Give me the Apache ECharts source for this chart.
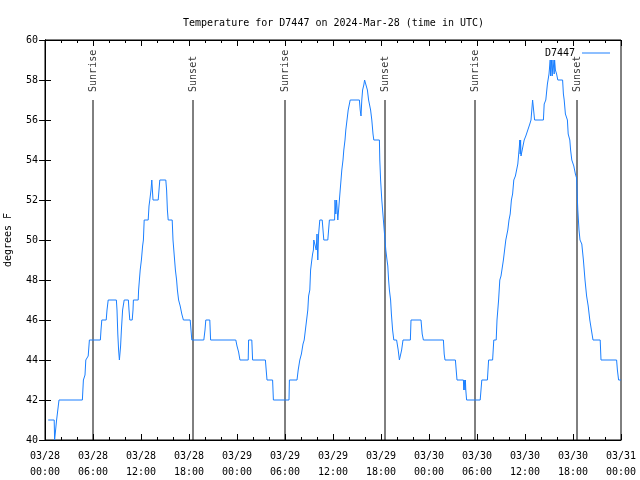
<!DOCTYPE html>
<html>
<head>
<meta charset="utf-8">
<script src="https://cdn.jsdelivr.net/npm/echarts@6/dist/echarts.min.js"></script>
<style>html,body{margin:0;padding:0;background:#fff}#c{width:640px;height:480px}</style>
</head>
<body>
<div id="c"></div>
<script>
// Hours since 03/28 00:00 UTC
const tempHours = [0.4,1.15,1.2,1.35,1.45,1.6,1.75,4.67,4.8,5.0,5.1,5.4,5.55,6.92,7.0,7.1,7.65,7.75,7.9,8.92,9.0,9.1,9.2,9.3,9.37,9.45,9.55,9.7,9.9,10.42,10.5,10.6,10.9,11.0,11.05,11.65,11.7,11.8,11.9,12.05,12.2,12.3,12.4,12.9,13.0,13.1,13.25,13.35,13.45,13.5,13.65,14.15,14.25,14.35,15.1,15.2,15.3,15.4,15.9,16.0,16.1,16.2,16.3,16.45,16.55,16.7,16.9,17.1,17.3,18.15,18.25,18.35,19.85,20.0,20.1,20.6,20.7,23.85,24.0,24.2,24.37,25.4,25.45,25.85,25.95,27.55,27.65,27.75,28.45,28.55,30.5,30.55,31.5,31.65,31.85,32.05,32.25,32.4,32.55,32.7,32.85,32.95,33.1,33.2,33.35,33.45,33.55,33.6,33.8,33.9,34.0,34.1,34.2,34.35,34.65,34.75,34.85,35.35,35.45,35.55,36.2,36.25,36.35,36.45,36.6,36.75,36.8,36.9,37.0,37.1,37.25,37.35,37.5,37.6,37.75,37.9,38.05,38.15,39.3,39.4,39.5,39.6,39.7,39.85,39.95,40.2,40.3,40.45,40.7,40.85,41.0,41.1,41.8,41.85,41.95,42.1,42.2,42.3,42.4,42.5,42.6,42.75,42.85,42.95,43.05,43.2,43.3,43.45,43.6,43.95,44.15,44.3,44.42,44.58,44.75,45.67,45.75,47.0,47.15,47.3,49.8,49.9,50.0,51.3,51.4,51.5,52.3,52.35,52.4,52.5,52.55,52.6,52.7,54.4,54.6,55.3,55.45,55.95,56.1,56.4,56.5,56.7,56.85,57.0,57.3,57.45,57.6,57.85,58.0,58.15,58.3,58.45,58.6,58.8,58.95,59.1,59.3,59.35,59.4,59.45,59.5,59.7,59.8,59.9,60.1,60.3,60.6,60.75,60.95,61.05,61.2,62.3,62.4,62.6,62.8,63.0,63.15,63.2,63.3,63.4,63.5,63.6,63.65,63.7,63.8,63.95,64.1,64.7,64.8,64.9,65.05,65.3,65.4,65.6,65.7,65.85,66.1,66.3,66.45,66.55,66.6,66.75,66.875,67.1,67.3,67.5,67.7,67.9,68.1,68.3,68.5,69.4,69.5,71.45,71.55,71.7,72];
const tempValues = [41,41,40,40,41,41,42,42,43,43.25,44,44.2,45,45,45.5,46,46,46.5,47,47,46.5,45.3,44.5,44,44,44.7,45.5,46.5,47,47,46.5,46,46,46.5,47,47,47.5,48,48.5,49,49.7,50,51,51,51.7,52,52.5,53,53,52,52,52,52.5,53,53,52.5,51.5,51,51,50,49.5,49,48.5,48,47.5,47,46.7,46.3,46,46,45.5,45,45,45.5,46,46,45,45,44.7,44.4,44,44,45,45,44,44,43.5,43,43,42,42,43,43,43.5,44,44.3,44.8,45,45.5,46,46.5,47.2,47.5,48.5,49,49.3,49.5,50,50,49.5,50.3,49,50.3,51,51,50.5,50,50,50.5,51,51,52,51.3,52,51,51,52,52.5,53,53.5,54,54.5,55,55.5,56,56.5,56.8,57,57,56.5,56.2,57,57.5,57.75,58,58,57.5,57,56.5,56,55.3,55,55,54,53,52,51.5,51,50.5,50,49.5,49,48.7,48,47.5,47,46.3,45.5,45,45,44.5,44,44,44.5,45,45,46,46,45.3,45,45,44.3,44,44,43.5,43,43,42.5,43,42.5,43,42.5,42,42,43,43,44,44,45,45,46,47,48,48.2,49,49,50,50.5,51,51.3,52,52.3,53,53.2,53.3,53.8,54.7,55,54.3,55,54.2,54.3,54.8,55,55.2,55.1,55.8,56,57,57,56,56,56.8,57,57.8,58.3,59,58.2,59,58.2,59,59,58.3,59,58.5,58.3,58,58,57.3,57,56.3,56,55.3,55,54.5,54,53.7,53.3,53.1,52,51.5,50.5,50,49.8,49,48,47.2,46.7,46,45.5,45,45,44,44,43.5,43,43];
const sunNames = ['Sunrise','Sunset','Sunrise','Sunset','Sunrise','Sunset'];
const sunHours = [6.0, 18.5, 30.0, 42.5, 53.75, 66.5];
const sunLineBottom = 40, sunLineTop = 57;
const xTickDates = ['03/28','03/28','03/28','03/28','03/29','03/29','03/29','03/29','03/30','03/30','03/30','03/30','03/31'];
const xTickTimes = ['00:00','06:00','12:00','18:00','00:00','06:00','12:00','18:00','00:00','06:00','12:00','18:00','00:00'];
const yMin = 40, yMax = 60, yStep = 2;
const seriesName = 'D7447';
const titleText = 'Temperature for D7447 on 2024-Mar-28 (time in UTC)';
const yName = 'degrees F';

const FONT = 'DejaVu Sans Mono';
const chart = echarts.init(document.getElementById('c'), null, {renderer:'canvas'});
const tickFmt = v => { const i = Math.round(v/6); return xTickDates[i] + '\n' + xTickTimes[i]; };
const series = [{
  name: seriesName, type: 'line', showSymbol: false, symbol: 'none',
  data: tempHours.map((h,i)=>[h,tempValues[i]]),
  lineStyle: {color:'#1a7fff', width:1}, itemStyle:{color:'#1a7fff'}, z: 3, animation:false
}];
sunHours.forEach((h,i)=>{
  series.push({type:'line', symbol:'none', silent:true, animation:false, z:2,
    data:[[h,sunLineBottom],[h,sunLineTop]], lineStyle:{color:'#000', width:1}});
});
series.push({type:'scatter', symbolSize:0.1, silent:true, animation:false, itemStyle:{color:'rgba(0,0,0,0)'},
  data: sunHours.map((h,i)=>({value:[h,sunLineTop], name:sunNames[i]})),
  label:{show:true, formatter: p=>p.name, rotate:90, position:[0,-8], align:'left', verticalAlign:'middle',
    color:'#000', fontFamily:FONT, fontSize:10}});

chart.setOption({
  animation:false,
  title:{text:titleText, left:178, top:13, textStyle:{fontFamily:FONT, fontSize:10, fontWeight:'normal', color:'#000'}},
  legend:{data:[seriesName], right:25, top:43, align:'right', itemWidth:28, itemHeight:1, icon:'rect', itemGap:5,
    textStyle:{fontFamily:FONT, fontSize:10, color:'#000', padding:[0,2,0,0]}},
  grid:{left:45, right:19, top:40, bottom:40, containLabel:false, outerBoundsMode:'none', show:true, borderColor:'#000', borderWidth:1, backgroundColor:'transparent'},
  xAxis:[{type:'value', min:0, max:72, interval:6, position:'bottom',
    axisLine:{show:true, lineStyle:{color:'#000'}}, splitLine:{show:false},
    axisTick:{show:true, inside:true, length:6, lineStyle:{color:'#000'}},
    minorTick:{show:true, splitNumber:3, length:3, lineStyle:{color:'#000'}},
    axisLabel:{formatter:tickFmt, fontFamily:FONT, fontSize:10, color:'#000', margin:8, lineHeight:16, showMinLabel:true, showMaxLabel:true}},
   {type:'value', min:0, max:72, interval:6, position:'top',
    axisLine:{show:true, lineStyle:{color:'#000'}}, splitLine:{show:false},
    axisTick:{show:true, inside:true, length:6, lineStyle:{color:'#000'}},
    minorTick:{show:true, splitNumber:3, length:3, lineStyle:{color:'#000'}},
    axisLabel:{show:false}}],
  yAxis:[{type:'value', min:yMin, max:yMax, interval:yStep, position:'left',
    name:yName, nameLocation:'middle', nameGap:32, nameRotate:90,
    nameTextStyle:{fontFamily:FONT, fontSize:10, color:'#000'},
    axisLine:{show:true, lineStyle:{color:'#000'}}, splitLine:{show:false},
    axisTick:{show:true, inside:true, length:6, lineStyle:{color:'#000'}},
    axisLabel:{fontFamily:FONT, fontSize:10, color:'#000', margin:7}},
   {type:'value', min:yMin, max:yMax, interval:yStep, position:'right',
    axisLine:{show:true, lineStyle:{color:'#000'}}, splitLine:{show:false},
    axisTick:{show:true, inside:true, length:6, lineStyle:{color:'#000'}},
    axisLabel:{show:false}}],
  series: series
});
</script>
</body>
</html>
